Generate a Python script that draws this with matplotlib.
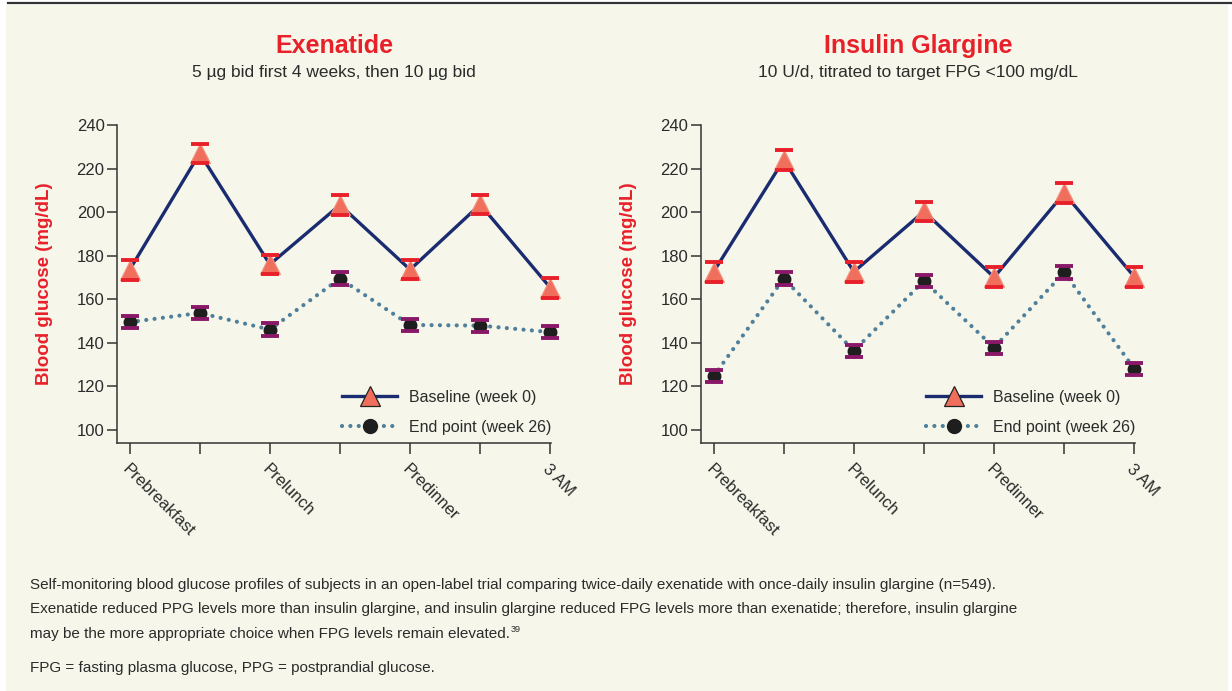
import matplotlib.pyplot as plt
from matplotlib.lines import Line2D
from matplotlib.patches import Rectangle

plt.rcParams['font.family'] = ['Liberation Sans Narrow', 'Liberation Sans', 'DejaVu Sans']

# --- data ---
timepoints = ["Prebreakfast", "", "Prelunch", "", "Predinner", "", "3 AM"]

exe_baseline = [173.5, 227, 176, 203.3, 173.6, 203.5, 165.3]
exe_endpoint = [149.5, 153.7, 146.1, 169.5, 148.2, 147.9, 144.9]

gla_baseline = [172.6, 224, 172.6, 200.3, 170.1, 208.7, 170.3]
gla_endpoint = [124.6, 169.5, 136.4, 168.4, 137.8, 172.3, 128.1]

baseline_err = 4.5
endpoint_err = 2.8

titles = ["Exenatide", "Insulin Glargine"]
subtitles = ["5 µg bid first 4 weeks, then 10 µg bid",
             "10 U/d, titrated to target FPG <100 mg/dL"]

caption = [
    "Self-monitoring blood glucose profiles of subjects in an open-label trial comparing twice-daily exenatide with once-daily insulin glargine (n=549).",
    "Exenatide reduced PPG levels more than insulin glargine, and insulin glargine reduced FPG levels more than exenatide; therefore, insulin glargine",
    "may be the more appropriate choice when FPG levels remain elevated.",
]
footnote = "FPG = fasting plasma glucose, PPG = postprandial glucose."

# --- styles ---
BG = "#f6f7ea"
RED = "#e8202a"
NAVY = "#1b2b70"
SALMON = "#ef6f5c"
PURPLE = "#8a1868"
DOTBLUE = "#4f7f9a"
TXT = "#2b2b2b"

fig = plt.figure(figsize=(12.32, 6.91), dpi=100)
fig.patch.set_facecolor("white")
W, H = 1232, 691
fig.patches.append(Rectangle((6 / W, 0), 1222 / W, 1 - 5 / H, transform=fig.transFigure,
                             facecolor=BG, edgecolor="none", zorder=-10))
fig.add_artist(Line2D([8 / W, 1], [1 - 3 / H, 1 - 3 / H], transform=fig.transFigure,
                      color="#333333", lw=1.6))

panels = [
    (117, exe_baseline, exe_endpoint),
    (701, gla_baseline, gla_endpoint),
]

x = list(range(len(timepoints)))

for i, (left_px, base, endp) in enumerate(panels):
    ax = fig.add_axes([left_px / W, 1 - 443 / H, 434 / W, 318 / H])
    ax.set_facecolor("none")

    ax.plot(x, base, color=NAVY, lw=2.4, zorder=2, clip_on=False)
    ax.plot(x, base, ls="none", marker="^", ms=14, mfc=SALMON, mec="#f3907f",
            mew=0.8, zorder=3, clip_on=False)
    eb = ax.errorbar(x, base, yerr=baseline_err, fmt="none", ecolor=RED,
                     capsize=6.5, capthick=2.8, elinewidth=0, zorder=4)
    eb[2][0].set_visible(False)
    for c in eb[1]:
        c.set_clip_on(False)

    ax.plot(x, endp, color=DOTBLUE, lw=3.0, ls=(0, (0.01, 2.0)),
            dash_capstyle="round", zorder=2, clip_on=False)
    ax.plot(x, endp, ls="none", marker="o", ms=9, mfc="#1e1e1e", mec="#1e1e1e",
            zorder=3, clip_on=False)
    eb = ax.errorbar(x, endp, yerr=endpoint_err, fmt="none", ecolor=PURPLE,
                     capsize=6.5, capthick=2.8, elinewidth=0, zorder=4)
    eb[2][0].set_visible(False)
    for c in eb[1]:
        c.set_clip_on(False)

    ax.set_xlim(-0.18, 6.01)
    ax.set_ylim(94, 240)
    ax.set_yticks(range(100, 241, 20))
    ax.set_xticks(x)
    ax.set_xticklabels(timepoints, rotation=-45, ha="left", va="top",
                       rotation_mode="anchor", fontsize=12, color=TXT)
    ax.tick_params(axis="x", length=8, width=1.1, color="#333333", pad=5)
    ax.tick_params(axis="y", length=7, width=1.1, color="#333333",
                   labelsize=12, labelcolor=TXT, pad=2)
    for s in ("top", "right"):
        ax.spines[s].set_visible(False)
    for s in ("left", "bottom"):
        ax.spines[s].set_color("#333333")
        ax.spines[s].set_linewidth(1.1)

    ax.set_ylabel("Blood glucose (mg/dL)", color=RED, fontsize=13.5,
                  fontweight="bold", labelpad=17)

    ax.text(0.5, 1 + 79 / 318, titles[i], transform=ax.transAxes, ha="center",
            va="center", color=RED, fontsize=18, fontweight="bold")
    ax.text(0.5, 1 + 52 / 318, subtitles[i], transform=ax.transAxes, ha="center",
            va="center", color=TXT, fontsize=12.5)

    handles = [
        Line2D([], [], color=NAVY, lw=2.4, marker="^", ms=15, mfc=SALMON, mec="#222222",
               mew=0.9),
        Line2D([], [], color=DOTBLUE, lw=3.0, ls=(0, (0.01, 2.0)),
               dash_capstyle="round", marker="o", ms=10, mfc="#1e1e1e", mec="#1e1e1e"),
    ]
    ax.legend(handles, ["Baseline (week 0)", "End point (week 26)"], loc="lower right",
              bbox_to_anchor=(1.035, -0.02), frameon=False, fontsize=11.5,
              handlelength=3.45, handletextpad=0.75, labelspacing=0.95,
              labelcolor=TXT)

# --- caption ---
ys = [585, 609, 634]
last = None
for txt, yp in zip(caption, ys):
    last = fig.text(30 / W, 1 - yp / H, txt, ha="left", va="center",
                    fontsize=11, color=TXT)
fig.text(30 / W, 1 - 668 / H, footnote, ha="left", va="center", fontsize=11, color=TXT)

fig.canvas.draw()
bb = last.get_window_extent()
fig.text((bb.x1 + 1) / W, 1 - 629 / H, "39", ha="left", va="center", fontsize=6.5,
         color=TXT)

fig.savefig("out.png", dpi=100, facecolor=fig.get_facecolor())
